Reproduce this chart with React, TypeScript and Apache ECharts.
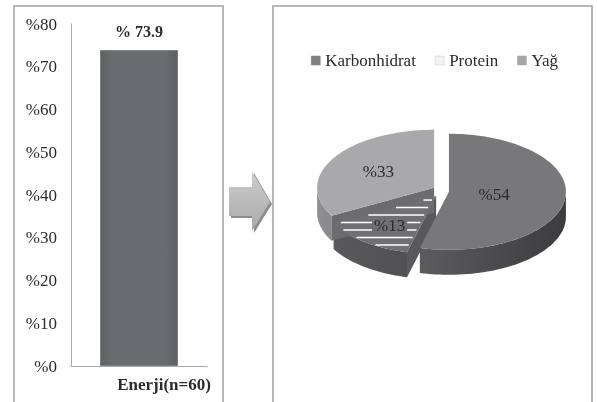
import React, { useEffect, useRef } from "react";
import * as echarts from "echarts";

// ---------- data ----------
const barCategories = ["Enerji(n=60)"];
const barValues = [73.9];
const barLabels = ["% 73.9"];
const yMin = 0;
const yMax = 80;
const yStep = 10;

const pieCategories = ["Karbonhidrat", "Protein", "Yağ"];
const pieValues = [54, 13, 33];
const pieLabels = ["%54", "%13", "%33"];

// ---------- styles ----------
const FONT = "Liberation Serif";
const TEXT = "#2b2b2b";
const topColors = ["#78787b", "#707072", "#a9a9ab"];
const sideColors = [
  ["#5c5c5e", "#3c3c3e"],
  ["#5a5a5c", "#505052"],
  ["#8f8f91", "#8a8a8c"],
];
const wallColors = ["#58585a", "#59595b", "#6c6c6e"];
const legendColors = ["#808082", "#f3f3f3", "#a6a6a8"];

// pie geometry (layout)
const CX = 441;
const CY = 191;
const RX = 117;
const RY = 58;
const H = 25;
const EXPL = 8;

const rad = (d: number) => (d * Math.PI) / 180;

function makeRenderItem(i: number) {
  return (_params: any, _api: any) => {
    const total = pieValues.reduce((a, b) => a + b, 0);
    let start = 0;
    for (let k = 0; k < i; k++) start += pieValues[k];
    const a1 = (start / total) * 360;
    const a2 = ((start + pieValues[i]) / total) * 360;
    const m = (a1 + a2) / 2;
    const cx = CX + EXPL * Math.sin(rad(m));
    const cy = CY - EXPL * 0.8 * Math.cos(rad(m));
    const pt = (t: number, dy = 0) => [cx + RX * Math.sin(rad(t)), cy - RY * Math.cos(rad(t)) + dy];
    const arc = (t1: number, t2: number, dy = 0) => {
      const n = Math.max(2, Math.ceil(Math.abs(t2 - t1) / 2));
      const pts: number[][] = [];
      for (let j = 0; j <= n; j++) pts.push(pt(t1 + ((t2 - t1) * j) / n, dy));
      return pts;
    };
    const children: any[] = [];
    // outer side wall (front half)
    const s1 = Math.max(a1, 90);
    const s2 = Math.min(a2, 270);
    if (s2 > s1) {
      const topArc = arc(s1, s2);
      const botArc = arc(s1, s2, H).reverse();
      children.push({
        type: "polygon",
        z2: 1,
        shape: { points: topArc.concat(botArc) },
        style: {
          fill: new echarts.graphic.LinearGradient(1, 0, 0, 0, [
            { offset: 0, color: sideColors[i][1] },
            { offset: 1, color: sideColors[i][0] },
          ]),
        },
      });
    }
    // radial walls
    const wall = (a: number) => {
      const p = pt(a);
      children.push({
        type: "polygon",
        z2: 2,
        shape: { points: [[cx, cy], p, [p[0], p[1] + H], [cx, cy + H]] },
        style: { fill: wallColors[i] },
      });
    };
    if (Math.sin(rad(a1)) < -1e-6) wall(a1);
    if (Math.sin(rad(a2)) > 1e-6) wall(a2);
    // top face
    const face = [[cx, cy]].concat(arc(a1, a2));
    children.push({
      type: "polygon",
      z2: 10,
      shape: { points: face },
      style: { fill: topColors[i] },
    });
    // stripes for Protein
    if (pieCategories[i] === "Protein") {
      const ys = face.map((p) => p[1]);
      const ymin = Math.min(...ys);
      const ymax = Math.max(...ys);
      for (let y = ymin + 4; y < ymax - 2; y += 7.5) {
        const xs: number[] = [];
        for (let e = 0; e < face.length; e++) {
          const p = face[e];
          const q = face[(e + 1) % face.length];
          if ((p[1] - y) * (q[1] - y) <= 0 && p[1] !== q[1]) {
            xs.push(p[0] + ((y - p[1]) / (q[1] - p[1])) * (q[0] - p[0]));
          }
        }
        if (xs.length >= 2) {
          const x0 = Math.min(...xs) + 2;
          const x1 = Math.max(...xs) - 2;
          if (x1 - x0 > 3) {
            children.push({
              type: "line",
              z2: 11,
              shape: { x1: x0, y1: y, x2: x1, y2: y },
              style: { stroke: "#ffffff", lineWidth: 1.5 },
            });
          }
        }
      }
    }
    // label at sector centroid
    const alpha = rad(a2 - a1);
    const kc = (4 * Math.sin(alpha / 2)) / (3 * alpha);
    const lp = [cx + kc * RX * Math.sin(rad(m)), cy - kc * RY * Math.cos(rad(m))];
    const isProt = pieCategories[i] === "Protein";
    children.push({
      type: "text",
      z2: 20,
      x: lp[0],
      y: lp[1],
      style: {
        text: pieLabels[i],
        fontFamily: FONT,
        fontSize: 17,
        fill: TEXT,
        align: "center",
        verticalAlign: "middle",
        textAlign: "center",
        textVerticalAlign: "middle",
        backgroundColor: isProt ? topColors[i] : undefined,
        padding: isProt ? [0, 2] : 0,
      },
    });
    return { type: "group", children };
  };
}

export default function App() {
  const ref = useRef<HTMLDivElement>(null);
  useEffect(() => {
    const chart = echarts.init(ref.current!, null, { renderer: "svg" });
    const option: any = {
      animation: false,
      textStyle: { fontFamily: FONT },
      grid: { left: 71, top: 24, width: 136, height: 342 },
      xAxis: {
        type: "category",
        data: barCategories,
        axisLine: { show: true, lineStyle: { color: "#a8a8a8", width: 1 } },
        axisTick: { show: false },
        axisLabel: {
          margin: 10,
          fontFamily: FONT,
          fontSize: 17,
          fontWeight: "bold",
          color: TEXT,
          padding: [0, 0, 0, 50],
        },
      },
      yAxis: {
        type: "value",
        min: yMin,
        max: yMax,
        interval: yStep,
        axisLine: { show: true, lineStyle: { color: "#a8a8a8", width: 1 } },
        axisTick: { show: false },
        splitLine: { show: false },
        axisLabel: {
          margin: 14,
          fontFamily: FONT,
          fontSize: 17,
          color: TEXT,
          formatter: (v: number) => "%" + v,
        },
      },
      legend: {
        data: pieCategories.map((n, i) => ({
          name: n,
          itemStyle: {
            color: legendColors[i],
            borderColor: i === 1 ? "#c8c8c8" : legendColors[i],
            borderWidth: 0.5,
          },
        })),
        left: 306,
        top: 47,
        itemWidth: 9,
        itemHeight: 9,
        itemGap: 19,
        icon: "rect",
        selectedMode: false,
        textStyle: { fontFamily: FONT, fontSize: 17, color: TEXT },
      },
      series: [
        {
          type: "bar",
          data: barValues,
          barWidth: 78,
          itemStyle: {
            color: new echarts.graphic.LinearGradient(0, 0, 1, 0, [
              { offset: 0, color: "#5f6064" },
              { offset: 0.15, color: "#6a6b6f" },
              { offset: 0.85, color: "#6a6b6f" },
              { offset: 1, color: "#5d5e62" },
            ]),
            borderColor: "#7c7d80",
            borderWidth: 1,
          },
          label: {
            show: true,
            position: "top",
            distance: 11,
            formatter: (p: any) => barLabels[p.dataIndex],
            fontFamily: FONT,
            fontSize: 16,
            fontWeight: "bold",
            color: TEXT,
          },
        },
        ...pieCategories.map((name, i) => ({
          type: "custom",
          name,
          coordinateSystem: "none",
          itemStyle: { color: legendColors[i] },
          data: [pieValues[i]],
          renderItem: makeRenderItem(i),
        })),
      ],
      graphic: [
        {
          type: "rect",
          shape: { x: 14, y: 6, width: 209, height: 410 },
          style: { fill: "none", stroke: "#a0a0a0", lineWidth: 1.5 },
          silent: true,
        },
        {
          type: "rect",
          shape: { x: 273, y: 6, width: 319, height: 410 },
          style: { fill: "none", stroke: "#a0a0a0", lineWidth: 1.5 },
          silent: true,
        },
        {
          type: "polygon",
          shape: {
            points: [
              [231, 189],
              [254, 189],
              [254, 173],
              [272, 204],
              [254, 233],
              [254, 218],
              [231, 218],
            ],
          },
          style: { fill: "#8c8c8c" },
          silent: true,
        },
        {
          type: "polygon",
          shape: {
            points: [
              [229, 187],
              [252, 187],
              [252, 171],
              [270, 202],
              [252, 231],
              [252, 216],
              [229, 216],
            ],
          },
          style: {
            fill: new echarts.graphic.LinearGradient(0, 0, 0, 1, [
              { offset: 0, color: "#cdcdcd" },
              { offset: 1, color: "#a9a9a9" },
            ]),
          },
          silent: true,
        },
      ],
    };
    chart.setOption(option);
    return () => chart.dispose();
  }, []);
  return <div ref={ref} style={{ position: "fixed", left: 0, top: 0, width: 597, height: 402 }} />;
}
